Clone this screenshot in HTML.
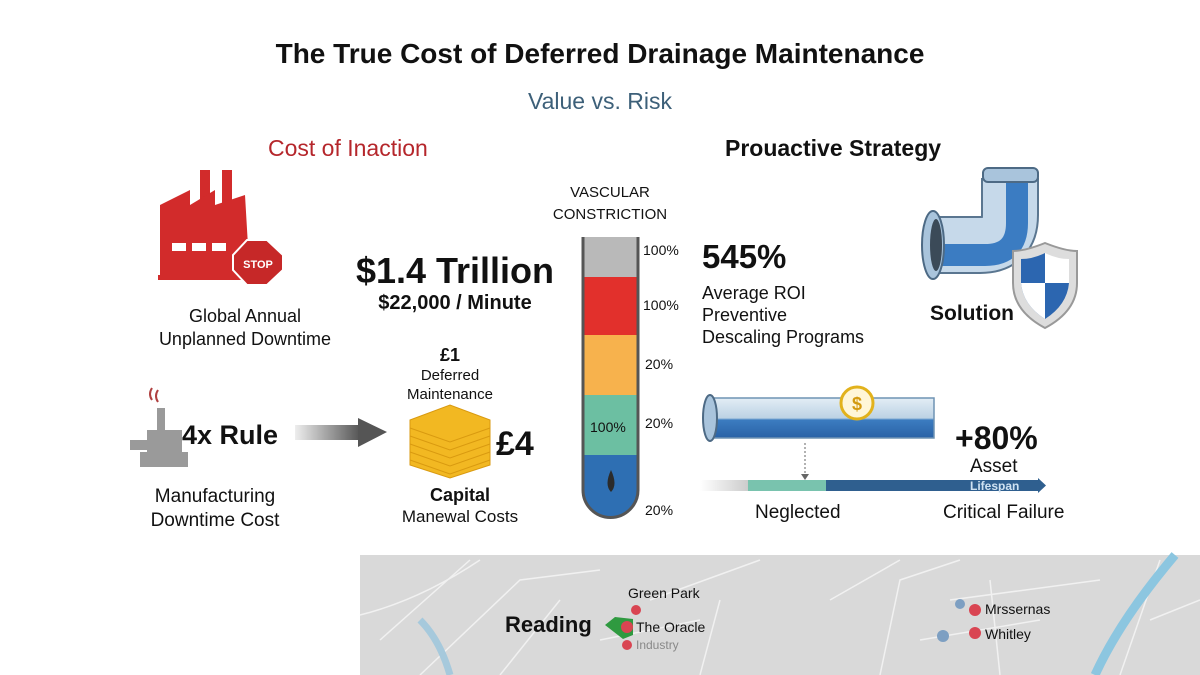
<!DOCTYPE html>
<html><head><meta charset="utf-8"><style>
body{margin:0;width:1200px;height:675px;background:#fff;overflow:hidden;position:relative;font-family:"Liberation Sans",sans-serif;color:#111}
.t{position:absolute;white-space:nowrap}
.c{text-align:center}
</style></head><body>
<div class="t c" style="left:0;width:1200px;top:38px;font-size:28px;font-weight:bold">The True Cost of Deferred Drainage Maintenance</div>
<div class="t c" style="left:0;width:1200px;top:88px;font-size:23px;color:#3d6079">Value vs. Risk</div>
<div class="t" style="left:268px;top:135px;font-size:23px;color:#b5262b">Cost of Inaction</div>
<div class="t" style="left:725px;top:135px;font-size:23px;font-weight:bold">Prouactive Strategy</div>

<svg style="position:absolute;left:0;top:0" width="1200" height="675">
 <!-- factory -->
 <g fill="#d22b2b">
  <rect x="200" y="170" width="10" height="40"/><rect x="222" y="170" width="10" height="40"/>
  <polygon points="160,280 160,205 190,190 190,205 215,190 215,205 245,195 250,280"/>
  <rect x="158" y="275" width="95" height="5"/>
 </g>
 <g fill="#fff"><rect x="172" y="243" width="14" height="8"/><rect x="192" y="243" width="14" height="8"/><rect x="212" y="243" width="14" height="8"/></g>
 <polygon points="247,240 267,240 283,255 283,270 267,285 247,285 233,270 233,255" fill="#c62828" stroke="#fff" stroke-width="2"/>
 <text x="258" y="268" font-size="11" font-weight="bold" fill="#fff" text-anchor="middle" font-family="Liberation Sans">STOP</text>
 <!-- small gray plant -->
 <g fill="#9a9a9a"><rect x="157" y="408" width="8" height="25"/><rect x="147" y="430" width="35" height="25"/><rect x="130" y="440" width="20" height="10"/><rect x="140" y="452" width="48" height="15"/></g>
 <path d="M152 400 q-4 -6 0 -12 M158 402 q-4 -6 0 -12" stroke="#b04040" stroke-width="2" fill="none"/>
 <!-- arrow -->
 <defs><linearGradient id="ag" x1="0" x2="1"><stop offset="0" stop-color="#eee"/><stop offset="1" stop-color="#555"/></linearGradient>
 <linearGradient id="pipe" x1="0" y1="0" x2="0" y2="1"><stop offset="0" stop-color="#e3edf5"/><stop offset=".5" stop-color="#bcd2e4"/><stop offset=".55" stop-color="#3c7cc0"/><stop offset="1" stop-color="#2a62a6"/></linearGradient></defs>
 <rect x="295" y="425" width="65" height="15" fill="url(#ag)"/>
 <polygon points="358,418 387,432 358,447" fill="#555"/>
 <!-- gold stack -->
 <g fill="#f2b822" stroke="#d99a10" stroke-width="1">
  <polygon points="410,420 450,405 490,420 490,465 450,478 410,465"/>
 </g>
 <g stroke="#d99a10" fill="none"><path d="M410 428 L450 442 L490 428 M410 436 L450 450 L490 436 M410 444 L450 458 L490 444 M410 452 L450 466 L490 452 M410 460 L450 474 L490 460"/></g>
 <!-- tube -->
 <clipPath id="tc"><path d="M583 237 H638 V490 a27.5 27.5 0 0 1 -55 0 Z"/></clipPath>
 <g clip-path="url(#tc)">
  <rect x="583" y="237" width="55" height="40" fill="#b9b9b9"/>
  <rect x="583" y="277" width="55" height="58" fill="#e2302c"/>
  <rect x="583" y="335" width="55" height="60" fill="#f7b24d"/>
  <rect x="583" y="395" width="55" height="60" fill="#6cbfa2"/>
  <rect x="583" y="455" width="55" height="65" fill="#2e6fb3"/>
 </g>
 <path d="M583 237 V490 a27.5 27.5 0 0 0 55 0 V237" fill="none" stroke="#555" stroke-width="3"/>
 <path d="M611 470 q-7 15 0 22 q7 -7 0 -22z" fill="#2b2b2b"/>
 <!-- elbow pipe -->
 <path d="M940 245 H980 q30 0 30 -30 V178" fill="none" stroke="#5a7690" stroke-width="58"/>
 <path d="M940 245 H980 q30 0 30 -30 V178" fill="none" stroke="#c6d9ea" stroke-width="54"/>
 <path d="M940 255 H985 q32 0 32 -32 V180" fill="none" stroke="#3b7cc2" stroke-width="22"/>
 <ellipse cx="933" cy="245" rx="11" ry="34" fill="#a9c4dc" stroke="#4d6a85" stroke-width="2"/>
 <ellipse cx="936" cy="245" rx="6" ry="26" fill="#3b4a58"/>
 <rect x="983" y="168" width="55" height="14" rx="5" fill="#a9c4dc" stroke="#4d6a85" stroke-width="2"/>
 <path d="M1045 243 q20 8 32 8 v32 q0 28 -32 45 q-32 -17 -32 -45 v-32 q12 0 32 -8z" fill="#ddd" stroke="#999" stroke-width="2"/>
 <path d="M1045 253 v30 h-24 q2 22 24 36 q22 -14 24 -36 h-24 M1045 253 q-12 6 -24 6 v24 h24" fill="#2c66b0"/>
 <path d="M1045 253 q12 6 24 6 v24 h-24 z M1021 283 h24 v36 q-22 -14 -24 -36z" fill="#fff"/>
 <!-- horizontal pipe -->
 <rect x="712" y="398" width="222" height="40" fill="url(#pipe)" stroke="#6f93b4" stroke-width="1.5"/>
 <ellipse cx="710" cy="418" rx="7" ry="23" fill="#a9c4dc" stroke="#4d6a85" stroke-width="2"/>
 <circle cx="857" cy="403" r="16" fill="#fff6d8" stroke="#e2b21c" stroke-width="3"/>
 <text x="857" y="410" font-size="18" fill="#d39a10" text-anchor="middle" font-weight="bold" font-family="Liberation Sans">$</text>
 <line x1="805" y1="443" x2="805" y2="475" stroke="#666" stroke-dasharray="2,2"/>
 <polygon points="801,474 809,474 805,480" fill="#666"/>
 <!-- lifespan bar -->
 <defs><linearGradient id="lg" x1="0" x2="1"><stop offset="0" stop-color="#fff"/><stop offset="1" stop-color="#ccc"/></linearGradient></defs>
 <rect x="700" y="480" width="48" height="11" fill="url(#lg)"/>
 <rect x="748" y="480" width="78" height="11" fill="#79c3ae"/>
 <rect x="826" y="480" width="212" height="11" fill="#2f5f8f"/>
 <polygon points="1038,478 1046,485.5 1038,493" fill="#2f5f8f"/>
 <text x="970" y="490" font-size="12" fill="#cfe2f2" font-weight="bold" font-family="Liberation Sans">Lifespan</text>
 <!-- map -->
 <rect x="360" y="555" width="840" height="120" fill="#d9d9d9"/>
 <g stroke="#f1f1f1" stroke-width="1.5" fill="none">
  <path d="M360 615 Q420 600 480 560"/><path d="M380 640 L470 560"/><path d="M420 675 L520 580 L600 570"/><path d="M500 675 L560 600"/>
  <path d="M650 600 L760 560"/><path d="M700 675 L720 600"/><path d="M830 600 L900 560"/><path d="M880 675 L900 580 L960 560"/>
  <path d="M950 600 L1100 580"/><path d="M1000 675 L990 580"/><path d="M1120 675 L1160 560"/><path d="M1150 620 L1200 600"/>
  <path d="M920 640 L1040 620"/><path d="M600 640 L700 620"/>
 </g>
 <path d="M420 620 Q440 640 450 675" stroke="#a6c9dc" stroke-width="7" fill="none"/>
 <path d="M1095 675 Q1120 620 1175 555" stroke="#8cc6e0" stroke-width="9" fill="none"/>
 <path d="M605 625 l10 -8 l18 2 l0 16 l-10 4 z" fill="#2f9a40"/>
 <g fill="#d94552"><circle cx="636" cy="610" r="5"/><circle cx="627" cy="627" r="6"/><circle cx="627" cy="645" r="5"/><circle cx="975" cy="610" r="6"/><circle cx="975" cy="633" r="6"/></g>
 <g fill="#7d9fc2"><circle cx="960" cy="604" r="5"/><circle cx="943" cy="636" r="6"/></g>
</svg>

<div class="t c" style="left:120px;width:250px;top:305px;font-size:18px;line-height:23px">Global Annual<br>Unplanned Downtime</div>
<div class="t c" style="left:330px;width:250px;top:250px;font-size:36px;font-weight:bold">$1.4 Trillion</div>
<div class="t c" style="left:330px;width:250px;top:292px;font-size:20px;font-weight:bold">$22,000 / Minute</div>
<div class="t" style="left:182px;top:420px;font-size:27px;font-weight:bold">4x Rule</div>
<div class="t c" style="left:100px;width:230px;top:485px;font-size:19px;line-height:24px">Manufacturing<br>Downtime Cost</div>
<div class="t c" style="left:390px;width:120px;top:345px;font-size:18px;font-weight:bold">£1</div>
<div class="t c" style="left:390px;width:120px;top:366px;font-size:15px;line-height:19px">Deferred<br>Maintenance</div>
<div class="t" style="left:496px;top:425px;font-size:34px;font-weight:bold">£4</div>
<div class="t c" style="left:385px;width:150px;top:485px;font-size:18px;font-weight:bold">Capital</div>
<div class="t c" style="left:385px;width:150px;top:507px;font-size:17px">Manewal Costs</div>
<div class="t c" style="left:540px;width:140px;top:182px;font-size:15px;line-height:22px">VASCULAR<br>CONSTRICTION</div>
<div class="t" style="left:643px;top:242px;font-size:14px">100%</div>
<div class="t" style="left:643px;top:297px;font-size:14px">100%</div>
<div class="t" style="left:645px;top:356px;font-size:14px">20%</div>
<div class="t" style="left:645px;top:415px;font-size:14px">20%</div>
<div class="t" style="left:645px;top:502px;font-size:14px">20%</div>
<div class="t" style="left:590px;top:419px;font-size:14px">100%</div>
<div class="t" style="left:702px;top:238px;font-size:33px;font-weight:bold">545%</div>
<div class="t" style="left:702px;top:282px;font-size:18px;line-height:22px">Average ROI<br>Preventive<br>Descaling Programs</div>
<div class="t" style="left:930px;top:302px;font-size:21px;font-weight:bold">Solution</div>
<div class="t" style="left:955px;top:420px;font-size:32px;font-weight:bold">+80%</div>
<div class="t" style="left:970px;top:456px;font-size:19px">Asset</div>
<div class="t" style="left:755px;top:502px;font-size:19px">Neglected</div>
<div class="t" style="left:943px;top:502px;font-size:19px">Critical Failure</div>
<div class="t" style="left:628px;top:585px;font-size:14px">Green Park</div>
<div class="t" style="left:505px;top:612px;font-size:22px;font-weight:bold">Reading</div>
<div class="t" style="left:636px;top:619px;font-size:14px">The Oracle</div>
<div class="t" style="left:636px;top:638px;font-size:12px;color:#888">Industry</div>
<div class="t" style="left:985px;top:601px;font-size:14px">Mrssernas</div>
<div class="t" style="left:985px;top:626px;font-size:14px">Whitley</div>
</body></html>
